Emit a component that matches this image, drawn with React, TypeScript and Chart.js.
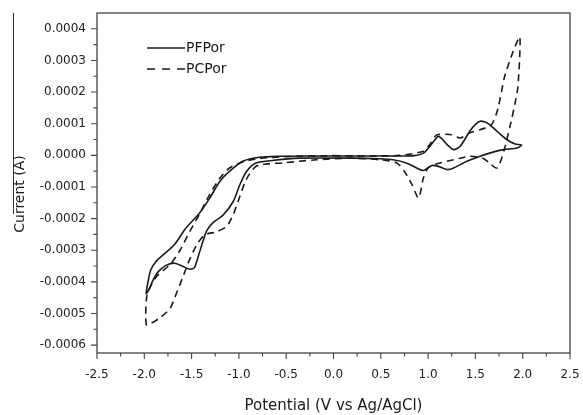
import React, { useEffect, useRef } from "react";
import { Chart, registerables } from "chart.js";

Chart.register(...registerables);

// PFPor (solid) cyclic voltammogram: potential (V) and current (A)
const pfPotential = [
  0.0, 0.4, 0.7, 0.85, 0.95, 1.02, 1.08, 1.11, 1.16, 1.2, 1.27, 1.34, 1.44, 1.5, 1.55, 1.6, 1.65, 1.73, 1.83, 1.92, 1.99,
  1.94, 1.8, 1.65, 1.55, 1.41, 1.27, 1.2, 1.11, 1.04, 0.95, 0.88, 0.77, 0.63, 0.49, 0.2, -0.36, -0.67,
  -0.82, -0.92, -0.99, -1.06, -1.17, -1.27, -1.34, -1.38, -1.42, -1.47, -1.52, -1.6, -1.68, -1.77, -1.85, -1.91, -1.95, -1.98,
  -1.96, -1.93, -1.87, -1.81, -1.68, -1.56, -1.42, -1.31, -1.2, -1.1, -0.96, -0.78, -0.57, -0.3, 0.0,
];
const pfCurrent = [
  -0.02e-4, -0.02e-4, -0.02e-4, -0.01e-4, 0.07e-4, 0.29e-4, 0.52e-4, 0.6e-4, 0.48e-4, 0.34e-4, 0.18e-4, 0.29e-4, 0.76e-4, 0.98e-4, 1.08e-4, 1.05e-4, 0.97e-4, 0.76e-4, 0.5e-4, 0.36e-4, 0.32e-4,
  0.23e-4, 0.18e-4, 0.07e-4, -0.03e-4, -0.19e-4, -0.4e-4, -0.45e-4, -0.35e-4, -0.32e-4, -0.48e-4, -0.4e-4, -0.24e-4, -0.14e-4, -0.11e-4, -0.09e-4, -0.09e-4, -0.17e-4,
  -0.24e-4, -0.51e-4, -0.93e-4, -1.46e-4, -1.9e-4, -2.12e-4, -2.38e-4, -2.72e-4, -3.1e-4, -3.55e-4, -3.6e-4, -3.5e-4, -3.41e-4, -3.48e-4, -3.67e-4, -3.96e-4, -4.24e-4, -4.37e-4,
  -3.99e-4, -3.61e-4, -3.33e-4, -3.17e-4, -2.82e-4, -2.3e-4, -1.84e-4, -1.36e-4, -0.82e-4, -0.51e-4, -0.19e-4, -0.06e-4, -0.03e-4, -0.02e-4, -0.02e-4,
];

// PCPor (dashed)
const pcPotential = [
  0.0, 0.4, 0.7, 0.95, 1.02, 1.08, 1.11, 1.23, 1.34, 1.44, 1.55, 1.67, 1.74, 1.81, 1.9, 1.97,
  1.95, 1.92, 1.87, 1.8, 1.73, 1.65, 1.58, 1.44, 1.34, 1.2, 1.07, 1.0, 0.95, 0.9, 0.83, 0.75, 0.67, 0.49, 0.17, -0.18, -0.54,
  -0.7, -0.82, -0.92, -0.99, -1.06, -1.13, -1.24, -1.36, -1.45, -1.52, -1.59, -1.66, -1.73, -1.84, -1.93, -1.98,
  -1.97, -1.87, -1.73, -1.63, -1.52, -1.42, -1.31, -1.2, -1.1, -0.94, -0.78, -0.5, 0.0,
];
const pcCurrent = [
  -0.01e-4, -0.02e-4, 0.0, 0.13e-4, 0.35e-4, 0.62e-4, 0.66e-4, 0.66e-4, 0.55e-4, 0.71e-4, 0.81e-4, 0.97e-4, 1.5e-4, 2.5e-4, 3.29e-4, 3.74e-4,
  2.19e-4, 1.66e-4, 0.97e-4, 0.13e-4, -0.4e-4, -0.25e-4, -0.09e-4, -0.03e-4, -0.09e-4, -0.19e-4, -0.29e-4, -0.4e-4, -0.72e-4, -1.35e-4, -0.93e-4, -0.51e-4, -0.24e-4, -0.14e-4, -0.09e-4, -0.14e-4, -0.24e-4,
  -0.27e-4, -0.35e-4, -0.75e-4, -1.3e-4, -1.87e-4, -2.25e-4, -2.42e-4, -2.51e-4, -2.85e-4, -3.29e-4, -3.83e-4, -4.36e-4, -4.85e-4, -5.15e-4, -5.31e-4, -5.35e-4,
  -4.4e-4, -3.83e-4, -3.46e-4, -3.04e-4, -2.41e-4, -1.88e-4, -1.24e-4, -0.72e-4, -0.4e-4, -0.19e-4, -0.1e-4, -0.04e-4, -0.01e-4,
];

const seriesLabels = ["PFPor", "PCPor"];
const xTickValues = [-2.5, -2.0, -1.5, -1.0, -0.5, 0.0, 0.5, 1.0, 1.5, 2.0, 2.5];
const yTickValues = [-0.0006, -0.0005, -0.0004, -0.0003, -0.0002, -0.0001, 0.0, 0.0001, 0.0002, 0.0003, 0.0004];
const xTitle = "Potential (V vs Ag/AgCl)";
const yTitle = "Current (A)";

const FONT = "'DejaVu Sans', 'Liberation Sans', Arial, sans-serif";
const INK = "#1a1a1a";
const AXIS = "#444";

const toPoints = (xs: number[], ys: number[]) => xs.map((x, i) => ({ x, y: ys[i] }));

const decorPlugin = {
  id: "decor",
  afterDraw(chart: any) {
    const { ctx, chartArea } = chart;
    const { left, right, top, bottom } = chartArea;
    const xs = chart.scales.x;
    const ys = chart.scales.y;
    ctx.save();
    // frame
    ctx.strokeStyle = AXIS;
    ctx.lineWidth = 1.3;
    ctx.strokeRect(left, top, right - left, bottom - top);
    // x ticks
    ctx.lineWidth = 1.1;
    ctx.beginPath();
    xTickValues.forEach((v, i) => {
      const px = xs.getPixelForValue(v);
      ctx.moveTo(px, bottom);
      ctx.lineTo(px, bottom + 6);
      if (i < xTickValues.length - 1) {
        const mx = xs.getPixelForValue((v + xTickValues[i + 1]) / 2);
        ctx.moveTo(mx, bottom);
        ctx.lineTo(mx, bottom + 3.5);
      }
    });
    // y ticks
    yTickValues.forEach((v, i) => {
      const py = ys.getPixelForValue(v);
      ctx.moveTo(left, py);
      ctx.lineTo(left - 6, py);
      const mids: number[] = [];
      if (i < yTickValues.length - 1) mids.push((v + yTickValues[i + 1]) / 2);
      if (i === 0) mids.push(v - 0.00005);
      if (i === yTickValues.length - 1) mids.push(v + 0.00005);
      mids.forEach((m) => {
        if (m >= ys.min && m <= ys.max) {
          const my = ys.getPixelForValue(m);
          ctx.moveTo(left, my);
          ctx.lineTo(left - 3.5, my);
        }
      });
    });
    ctx.stroke();

    // overline artifact near y title
    ctx.strokeStyle = "#333";
    ctx.lineWidth = 1;
    ctx.beginPath();
    ctx.moveTo(13.5, 13);
    ctx.lineTo(13.5, 214);
    ctx.stroke();

    // y title
    ctx.fillStyle = INK;
    ctx.font = `14px ${FONT}`;
    ctx.textAlign = "center";
    ctx.textBaseline = "middle";
    ctx.save();
    ctx.translate(20, 194);
    ctx.rotate(-Math.PI / 2);
    ctx.fillText(yTitle, 0, 0);
    ctx.restore();

    // legend
    const rows = [48, 69];
    chart.data.datasets.forEach((ds: any, i: number) => {
      const y = rows[i];
      ctx.strokeStyle = ds.borderColor;
      ctx.lineWidth = ds.borderWidth;
      ctx.setLineDash(ds.borderDash ? [8, 7] : []);
      ctx.beginPath();
      ctx.moveTo(147, y);
      ctx.lineTo(185, y);
      ctx.stroke();
      ctx.setLineDash([]);
      ctx.fillStyle = INK;
      ctx.font = `14px ${FONT}`;
      ctx.textAlign = "left";
      ctx.textBaseline = "middle";
      ctx.fillText(ds.label, 186, y);
    });
    ctx.restore();
  },
};

export default function App() {
  const canvasRef = useRef<HTMLCanvasElement | null>(null);

  useEffect(() => {
    const canvas = canvasRef.current;
    if (!canvas) return;
    const chart = new Chart(canvas, {
      type: "scatter",
      data: {
        datasets: [
          {
            label: seriesLabels[0],
            data: toPoints(pfPotential, pfCurrent),
            showLine: true,
            borderColor: INK,
            borderWidth: 1.6,
            pointRadius: 0,
            tension: 0.25,
            fill: false,
          },
          {
            label: seriesLabels[1],
            data: toPoints(pcPotential, pcCurrent),
            showLine: true,
            borderColor: INK,
            borderWidth: 1.6,
            borderDash: [7, 5],
            pointRadius: 0,
            tension: 0.25,
            fill: false,
          },
        ],
      },
      options: {
        animation: false,
        responsive: false,
        maintainAspectRatio: false,
        devicePixelRatio: 1,
        layout: { padding: { left: 0, right: 13, top: 13, bottom: 0 } },
        plugins: { legend: { display: false }, tooltip: { enabled: false } },
        scales: {
          x: {
            type: "linear",
            min: -2.5,
            max: 2.5,
            afterBuildTicks: (s: any) => {
              s.ticks = xTickValues.map((v) => ({ value: v }));
            },
            afterFit: (s: any) => {
              s.height = 62;
            },
            grid: { display: true, color: "rgba(0,0,0,0)", drawTicks: true, tickLength: 14 },
            border: { display: false },
            ticks: {
              color: "#222",
              font: { family: FONT, size: 12 },
              padding: 1,
              maxRotation: 0,
              autoSkip: false,
              callback: (v: any) => Number(v).toFixed(1),
            },
            title: {
              display: true,
              text: xTitle,
              color: INK,
              font: { family: FONT, size: 15 },
              padding: { top: 1, bottom: 0 },
            },
          },
          y: {
            type: "linear",
            min: -0.000625,
            max: 0.00045,
            afterBuildTicks: (s: any) => {
              s.ticks = yTickValues.map((v) => ({ value: v }));
            },
            afterFit: (s: any) => {
              s.width = 97;
            },
            grid: { display: true, color: "rgba(0,0,0,0)", drawTicks: true, tickLength: 10 },
            border: { display: false },
            ticks: {
              color: "#222",
              font: { family: FONT, size: 12 },
              padding: 1,
              autoSkip: false,
              callback: (v: any) => {
                const s = Number(v).toFixed(4);
                return s === "-0.0000" ? "0.0000" : s;
              },
            },
            title: { display: false },
          },
        },
      },
      plugins: [decorPlugin],
    });
    return () => chart.destroy();
  }, []);

  return (
    <div style={{ position: "fixed", left: 0, top: 0, width: 583, height: 415, background: "#fff" }}>
      <canvas ref={canvasRef} width={583} height={415} style={{ display: "block" }} />
    </div>
  );
}
